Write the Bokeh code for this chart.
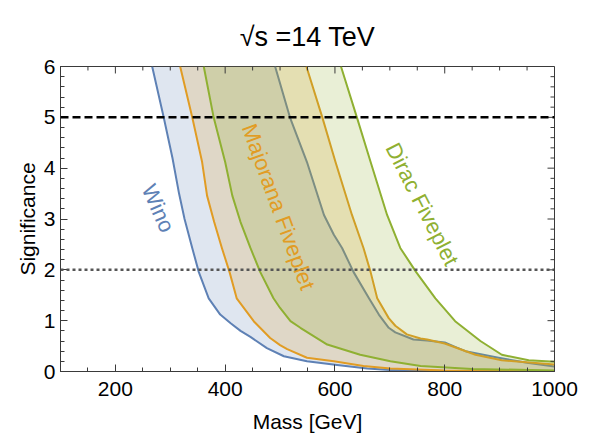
import numpy as np
from bokeh.plotting import figure
from bokeh.models import Range1d, Label, Span, FixedTicker
from bokeh.embed import file_html
from bokeh.resources import INLINE

# ---- data ----
wino_lo_m = [267, 288, 304, 316, 326, 340, 352, 370, 391, 410, 428, 446, 476, 507, 549, 604, 659, 700, 800, 1000]
wino_lo_s = [6.0, 5.0, 4.2, 3.5, 3.0, 2.43, 1.955, 1.44, 1.12, 0.95, 0.80, 0.68, 0.46, 0.30, 0.20, 0.13, 0.06, 0.03, 0.01, 0.0]
wino_hi_m = [491, 518, 549, 580, 598, 613, 634, 662, 680, 698, 710, 743, 768, 800, 820, 838, 898, 950, 1000]
wino_hi_s = [6.0, 5.0, 4.12, 3.08, 2.69, 2.43, 1.955, 1.44, 1.12, 0.86, 0.77, 0.63, 0.61, 0.57, 0.48, 0.40, 0.27, 0.17, 0.10]

maj_lo_m = [318, 340, 358, 367, 380, 394, 408, 421, 452, 482, 500, 513, 549, 598, 652, 701, 800, 1000]
maj_lo_s = [6.0, 5.0, 4.12, 3.46, 2.94, 2.43, 1.955, 1.44, 0.99, 0.66, 0.52, 0.44, 0.27, 0.20, 0.11, 0.06, 0.02, 0.0]
maj_hi_m = [548, 577, 601, 631, 652, 665, 677, 698, 710, 731, 756, 768, 800, 856, 904, 1000]
maj_hi_s = [6.0, 5.0, 4.12, 3.08, 2.43, 1.955, 1.44, 1.05, 0.90, 0.73, 0.65, 0.63, 0.55, 0.33, 0.22, 0.14]

dir_lo_m = [361, 379, 400, 413, 428, 446, 464, 488, 500, 519, 537, 586, 646, 701, 756, 850, 1000]
dir_lo_s = [6.0, 5.0, 4.12, 3.46, 2.94, 2.43, 1.955, 1.44, 1.25, 0.99, 0.86, 0.53, 0.33, 0.20, 0.11, 0.05, 0.02]
dir_hi_m = [611, 640, 665, 695, 719, 748, 783, 819, 865, 904, 953, 1000]
dir_hi_s = [6.0, 5.0, 4.12, 3.08, 2.43, 1.955, 1.44, 0.99, 0.60, 0.33, 0.22, 0.19]

x_ticks = [200, 400, 600, 800, 1000]
y_ticks = [0, 1, 2, 3, 4, 5, 6]
x_minor = list(range(100, 1001, 50))
y_minor = [round(v * 0.2, 1) for v in range(0, 31)]
discovery = 5
exclusion = 2

BLUE = "#5E81B5"
ORANGE = "#E19C24"
GREEN = "#8FB032"
FONT = "Liberation Sans"
AX = "#3a3a3a"

W, H = 589, 435
BL, BR, BT, BB = 60, 35, 66, 63
XMIN, XMAX, YMIN, YMAX = 100, 1000, 0, 6

p = figure(width=W, height=H, x_range=Range1d(XMIN, XMAX), y_range=Range1d(YMIN, YMAX),
           output_backend="svg", toolbar_location=None,
           min_border_left=BL, min_border_right=BR, min_border_top=BT, min_border_bottom=BB)
p.grid.visible = False
p.outline_line_color = AX
p.background_fill_color = "white"
p.border_fill_color = "white"

p.title.text = "√s =14 TeV"
p.title.align = "center"
p.title.text_font = FONT
p.title.text_font_size = "27px"
p.title.text_font_style = "normal"
p.title.text_color = "black"
p.title.standoff = 29

bands = [
    (wino_lo_m, wino_lo_s, wino_hi_m, wino_hi_s, BLUE),
    (maj_lo_m, maj_lo_s, maj_hi_m, maj_hi_s, ORANGE),
    (dir_lo_m, dir_lo_s, dir_hi_m, dir_hi_s, GREEN),
]
for lo_m, lo_s, hi_m, hi_s, col in bands:
    xs = list(lo_m) + list(hi_m)[::-1]
    ys = list(lo_s) + list(hi_s)[::-1]
    p.patch(xs, ys, fill_color=col, fill_alpha=0.2, line_color=None)
    p.line(lo_m, lo_s, line_color=col, line_width=2, line_join="round")
    p.line(hi_m, hi_s, line_color=col, line_width=2, line_join="round")

p.add_layout(Span(location=discovery, dimension="width", line_color="black",
                  line_width=2.5, line_dash="8 4"))
p.add_layout(Span(location=exclusion, dimension="width", line_color="#555555",
                  line_width=2.5, line_dash="3 3"))

# band labels
p.add_layout(Label(x=278, y=3.21, text="Wino", angle=np.radians(-66), text_color=BLUE,
                   text_font=FONT, text_font_size="22px", text_align="center", text_baseline="middle"))
p.add_layout(Label(x=497, y=3.24, text="Majorana Fiveplet", angle=np.radians(-70), text_color=ORANGE,
                   text_font=FONT, text_font_size="22px", text_align="center", text_baseline="middle"))
p.add_layout(Label(x=759, y=3.29, text="Dirac Fiveplet", angle=np.radians(-63), text_color=GREEN,
                   text_font=FONT, text_font_size="22px", text_align="center", text_baseline="middle"))

# axes (ticks inside)
def style_axis(ax, ticks, minor):
    ax.ticker = FixedTicker(ticks=ticks, minor_ticks=minor)
    ax.axis_line_color = AX
    ax.major_tick_line_color = AX
    ax.minor_tick_line_color = AX
    ax.major_tick_in = 7
    ax.major_tick_out = 0
    ax.minor_tick_in = 4
    ax.minor_tick_out = 0
    ax.major_label_text_font = FONT
    ax.major_label_text_font_size = "21px"
    ax.major_label_text_color = "black"
    ax.axis_label_text_font = FONT
    ax.axis_label_text_font_size = "21px"
    ax.axis_label_text_font_style = "normal"
    ax.axis_label_text_color = "black"

style_axis(p.xaxis[0], x_ticks, x_minor)
style_axis(p.yaxis[0], y_ticks, y_minor)
p.xaxis[0].axis_label = "Mass [GeV]"
p.yaxis[0].axis_label = "Significance"
p.xaxis[0].major_label_standoff = 10
p.xaxis[0].axis_label_standoff = 11
p.yaxis[0].major_label_standoff = 5
p.yaxis[0].axis_label_standoff = 2

# mirrored inside ticks on top and right frame edges
fw = W - BL - BR
fh = H - BT - BB
gev_per_px = (XMAX - XMIN) / fw
sig_per_px = (YMAX - YMIN) / fh
x_minor_only = [t for t in x_minor if t not in x_ticks]
y_minor_only = [t for t in y_minor if t not in y_ticks]
p.segment(x0=x_ticks, y0=[YMAX] * len(x_ticks), x1=x_ticks, y1=[YMAX - 7 * sig_per_px] * len(x_ticks),
          line_color=AX, line_width=1)
p.segment(x0=x_minor_only, y0=[YMAX] * len(x_minor_only), x1=x_minor_only,
          y1=[YMAX - 4 * sig_per_px] * len(x_minor_only), line_color=AX, line_width=1)
p.segment(x0=[XMAX] * len(y_ticks), y0=y_ticks, x1=[XMAX - 7 * gev_per_px] * len(y_ticks), y1=y_ticks,
          line_color=AX, line_width=1)
p.segment(x0=[XMAX] * len(y_minor_only), y0=y_minor_only, x1=[XMAX - 4 * gev_per_px] * len(y_minor_only),
          y1=y_minor_only, line_color=AX, line_width=1)

open("out.html", "w").write(file_html(p, INLINE))
